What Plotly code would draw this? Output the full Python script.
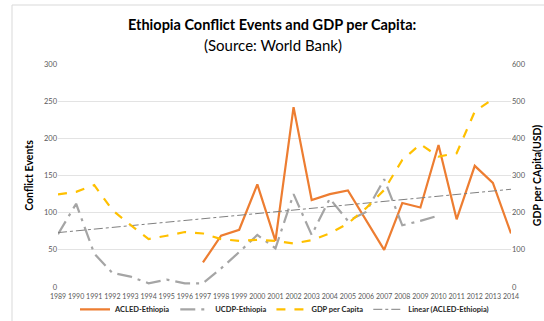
import numpy as np
import plotly.graph_objects as go

years = [str(y) for y in range(1989, 2015)]

acled = [None, None, None, None, None, None, None, None,
         33, 69, 77, 138, 62, 242, 117, 125, 130, 90, 50, 113, 107, 191, 91, 163, 140, 72]

ucdp = [71, 112, 45, 19, 14, 5, 10, 5, 5, 25, 47, 70, 52, 125, 70, 119, 89, 101, 145, 83, 89, 96,
        None, None, None, None]

gdp = [249, 256, 274, 207, 167, 129, 138, 148, 144, 129, 124, 127, 124, 117, 126, 144, 171, 212,
       261, 342, 384, 351, 360, 472, 506, None]

# least-squares linear trend of ACLED events, drawn over the full year range
yr_num = np.arange(1989, 2015)
mask = np.array([v is not None for v in acled])
coef = np.polyfit(yr_num[mask], np.array([v for v in acled if v is not None], float), 1)
trend = np.polyval(coef, yr_num)

FONT = "Lato"
TICK = "#595959"

fig = go.Figure()
fig.add_trace(go.Scatter(x=years, y=acled, name="ACLED-Ethiopia", mode="lines",
                         line=dict(color="#ED7D31", width=2.2)))
fig.add_trace(go.Scatter(x=years, y=ucdp, name="UCDP-Ethiopia", mode="lines",
                         line=dict(color="#A5A5A5", width=2.2, dash="longdashdot")))
fig.add_trace(go.Scatter(x=years, y=gdp, name="GDP per Capita", mode="lines", yaxis="y2",
                         line=dict(color="#FFC000", width=2.2, dash="dash")))
fig.add_trace(go.Scatter(x=years, y=trend, name="Linear (ACLED-Ethiopia)", mode="lines",
                         line=dict(color="#7F7F7F", width=1, dash="dashdot")))

fig.update_layout(
    width=544, height=321,
    margin=dict(l=58, r=33, t=64, b=34, autoexpand=False),
    paper_bgcolor="white", plot_bgcolor="white",
    font=dict(family=FONT, color=TICK),
    showlegend=True,
    legend=dict(orientation="h", x=0.5, xanchor="center", y=-0.035, yanchor="top",
                font=dict(family=FONT, size=7.5, color="#262626", weight="bold"), itemwidth=30,
                traceorder="normal", tracegroupgap=0, borderwidth=0,
                bgcolor="rgba(0,0,0,0)"),
    xaxis=dict(type="category", showgrid=False, showline=False, zeroline=False,
               ticks="", tickangle=0, automargin=False, ticklabelstandoff=4,
               tickfont=dict(size=7, color=TICK)),
    yaxis=dict(range=[0, 300], dtick=50, showgrid=True, gridcolor="#E3E3E3", gridwidth=1,
               zeroline=False, showline=False, ticks="", automargin=False,
               tickfont=dict(size=7.5, color=TICK),
               title=dict(text="<b>Conflict Events</b>", font=dict(size=10.5, color="#000000"),
                          standoff=8)),
    yaxis2=dict(range=[0, 600], dtick=100, overlaying="y", side="right", showgrid=False,
                zeroline=False, showline=False, ticks="", automargin=False,
                tickfont=dict(size=7.5, color=TICK),
                title=dict(text="<b>GDP per CApita(USD)</b>", font=dict(size=10.5, color="#000000"),
                           standoff=8)),
    annotations=[
        dict(text="<b>Ethiopia Conflict Events and GDP per Capita:</b>", xref="paper", yref="paper",
             x=(272 - 58) / 453, y=(287 - 25) / 223, xanchor="center", yanchor="middle",
             showarrow=False, font=dict(family=FONT, size=14.5, color="#000000")),
        dict(text="(Source: World Bank)", xref="paper", yref="paper",
             x=(273 - 58) / 453, y=(287 - 45) / 223, xanchor="center", yanchor="middle",
             showarrow=False, font=dict(family=FONT, size=15, color="#000000")),
    ],
    shapes=[
        dict(type="rect", xref="paper", yref="paper",
             x0=(12 - 58) / 453, x1=(548 - 58) / 453, y0=(287 - 330) / 223, y1=(287 - 5) / 223,
             line=dict(color="#D9D9D9", width=1), fillcolor="rgba(0,0,0,0)", layer="below"),
    ],
)

fig.write_html("out.html")
